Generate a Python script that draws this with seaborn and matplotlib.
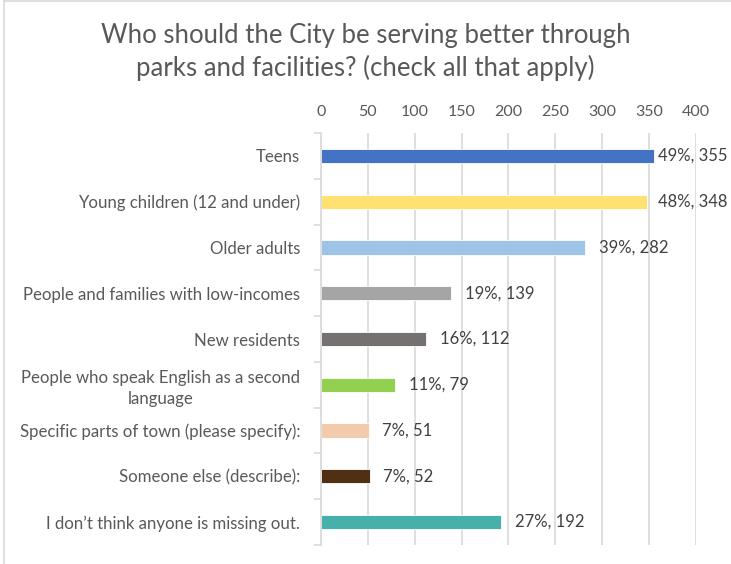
import matplotlib
matplotlib.use("Agg")
import matplotlib.pyplot as plt
from matplotlib.lines import Line2D
from matplotlib.ticker import FixedLocator
import seaborn as sns
import pandas as pd
import numpy as np

categories = [
    "Teens",
    "Young children (12 and under)",
    "Older adults",
    "People and families with low-incomes",
    "New residents",
    "People who speak English as a second\nlanguage",
    "Specific parts of town (please specify):",
    "Someone else (describe):",
    "I don\u2019t think anyone is missing out.",
]
counts = [355, 348, 282, 139, 112, 79, 51, 52, 192]
percents = [49, 48, 39, 19, 16, 11, 7, 7, 27]
colors = ["#4472C4", "#FFE172", "#9DC3E6", "#A5A5A5", "#767171",
          "#92D050", "#F1CBAB", "#4F3013", "#47B0AB"]
x_ticks = [0, 50, 100, 150, 200, 250, 300, 350, 400]

title = "Who should the City be serving better through\nparks and facilities? (check all that apply)"

sns.set_theme(style="white")
plt.rcParams["font.family"] = ["Lato", "DejaVu Sans"]
text_color = "#595959"
value_color = "#404040"
grid_color = "#D9D9D9"

df = pd.DataFrame({"category": categories, "count": counts})

fig = plt.figure(figsize=(7.31, 5.64), dpi=100)
ax = fig.add_axes([321 / 731, 1 - 545 / 564, (696 - 321) / 731, (545 - 133) / 564])

sns.barplot(data=df, y="category", x="count", hue="category", palette=colors,
            order=categories, hue_order=categories, legend=False, width=0.31,
            orient="h", ax=ax, edgecolor="white", linewidth=0.6, saturation=1)

ax.set_xlim(0, 400)
ax.set_ylim(len(categories) - 0.5, -0.5)
ax.xaxis.tick_top()
ax.xaxis.set_major_locator(FixedLocator(x_ticks))
ax.set_xticklabels([str(t) for t in x_ticks])
ax.set_xlabel("")
ax.set_ylabel("")
ax.grid(axis="x", color=grid_color, linewidth=1.2)
ax.grid(axis="y", visible=False)
ax.set_axisbelow(True)

for side in ["top", "right", "bottom"]:
    ax.spines[side].set_visible(False)
ax.spines["left"].set_color(grid_color)
ax.spines["left"].set_linewidth(1.2)

ax.tick_params(axis="x", length=0, pad=10, labelsize=11.5, labelcolor=text_color)
ax.tick_params(axis="y", which="major", length=0, pad=15, labelsize=12.1, labelcolor=text_color)
ax.yaxis.set_minor_locator(FixedLocator(np.arange(-0.5, len(categories), 1.0)))
ax.tick_params(axis="y", which="minor", length=5, width=1.2, color=grid_color, left=True)
for lab in ax.get_yticklabels():
    lab.set_multialignment("center")
    lab.set_linespacing(1.35)

# value labels sit just past each bar, kept inside the chart on the right
label_max_x = 359.5
for i, (c, p) in enumerate(zip(counts, percents)):
    ax.text(min(c + 14.5, label_max_x), i, f"{p}%, {c}", va="center", ha="left",
            fontsize=12, color=value_color)

fig.text(0.5, 1 - 52 / 564, title, ha="center", va="center", fontsize=18.5,
         color=text_color, linespacing=1.3)

# outer frame of the chart area
fig.add_artist(Line2D([3.5 / 731, 3.5 / 731], [0, 1], transform=fig.transFigure,
                      color=grid_color, linewidth=1.2))
fig.add_artist(Line2D([3.5 / 731, 1], [1 - 0.8 / 564, 1 - 0.8 / 564],
                      transform=fig.transFigure, color=grid_color, linewidth=1.2))

fig.savefig("out.png", dpi=100, facecolor="white")
